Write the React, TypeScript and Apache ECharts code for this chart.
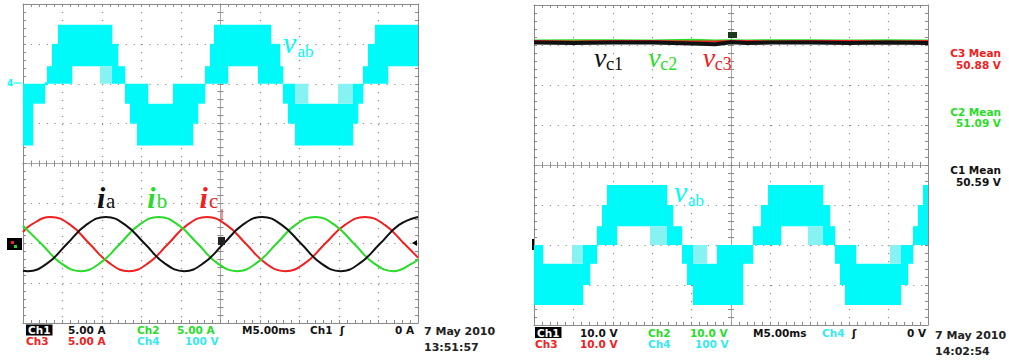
import React, { useEffect, useRef } from 'react';
import * as echarts from 'echarts';

// ---------- DATA (time in ms across the 10-division screen, 5 ms/div) ----------
// v_ab envelopes, left screen (Ch4, 100 V/div): [tStart, tEnd, vLow, vHigh, shade(1 solid / 0 light)]
const vabLeftSegments: number[][] = [
  [0.0, 1.27, -155, 0, 1],
  [1.27, 2.78, -50, 0, 1],
  [2.78, 3.04, -4, 4, 1],
  [3.04, 3.67, 0, 44, 1],
  [3.67, 4.43, 0, 100, 1],
  [4.43, 6.2, 0, 148, 1],
  [6.2, 9.75, 44, 148, 1],
  [9.75, 11.27, 44, 148, 1],
  [9.75, 11.27, 0, 44, 0],
  [11.27, 12.03, 0, 100, 1],
  [12.03, 12.91, 0, 44, 1],
  [12.91, 13.54, -50, 0, 1],
  [13.54, 14.43, -100, 0, 1],
  [14.43, 15.82, -155, 0, 1],
  [15.82, 18.99, -155, -50, 1],
  [18.99, 21.52, -155, 0, 1],
  [21.52, 22.15, -100, 0, 1],
  [22.15, 23.04, -50, 0, 1],
  [23.04, 23.67, 0, 44, 1],
  [23.67, 24.18, 0, 100, 1],
  [24.18, 25.95, 0, 148, 1],
  [25.95, 29.75, 44, 148, 1],
  [29.75, 31.39, 0, 148, 1],
  [31.39, 32.53, 0, 100, 1],
  [32.53, 32.91, 0, 44, 1],
  [32.91, 33.54, -50, 0, 1],
  [33.54, 34.43, -100, 0, 1],
  [34.43, 36.08, -155, -50, 1],
  [34.43, 36.08, -50, 0, 0],
  [36.08, 39.87, -155, -50, 1],
  [39.87, 41.77, -155, -50, 1],
  [39.87, 41.77, -50, 0, 0],
  [41.77, 42.41, -100, 0, 1],
  [42.41, 43.04, -50, 0, 1],
  [43.04, 43.67, 0, 44, 1],
  [43.67, 44.56, 0, 100, 1],
  [44.56, 46.2, 0, 148, 1],
  [46.2, 50.0, 44, 148, 1],
];

// v_ab envelopes, right screen (Ch4, 100 V/div)
const vabRightSegments: number[][] = [
  [0.0, 1.14, -150, 0, 1],
  [1.14, 4.82, -150, -47, 1],
  [4.82, 6.22, -150, -47, 1],
  [4.82, 6.22, -47, 0, 0],
  [6.22, 7.11, -100, 0, 1],
  [7.11, 7.99, -47, 0, 1],
  [7.99, 8.63, 0, 47, 1],
  [8.63, 9.26, 0, 100, 1],
  [9.26, 10.53, 0, 150, 1],
  [10.53, 14.72, 47, 150, 1],
  [14.72, 16.88, 47, 150, 1],
  [14.72, 16.88, 0, 47, 0],
  [16.88, 17.64, 0, 100, 1],
  [17.64, 18.78, 0, 47, 1],
  [18.78, 19.42, -47, 0, 1],
  [19.42, 20.18, -100, 0, 1],
  [20.18, 21.95, -150, -47, 1],
  [20.18, 21.95, -47, 0, 0],
  [21.95, 23.22, -150, -47, 1],
  [23.22, 26.52, -150, 0, 1],
  [26.52, 27.79, -47, 0, 1],
  [27.79, 28.81, 0, 47, 1],
  [28.81, 29.7, 0, 100, 1],
  [29.7, 31.35, 0, 150, 1],
  [31.35, 34.77, 47, 150, 1],
  [34.77, 36.68, 47, 150, 1],
  [34.77, 36.68, 0, 47, 0],
  [36.68, 37.56, 0, 100, 1],
  [37.56, 38.2, 0, 47, 1],
  [38.2, 38.83, -47, 0, 1],
  [38.83, 39.47, -100, 0, 1],
  [39.47, 40.86, -150, 0, 1],
  [40.86, 45.18, -150, -47, 1],
  [45.18, 46.57, -150, -47, 1],
  [45.18, 46.57, -47, 0, 0],
  [46.57, 47.46, -100, 0, 1],
  [47.46, 48.1, -47, 0, 1],
  [48.1, 48.73, 0, 47, 1],
  [48.73, 49.37, 0, 100, 1],
  [49.37, 50.0, 0, 150, 1],
];

// Phase currents (A), 5 A/div
const iaTimes = [0, 0.6, 3.1, 5.55, 8.0, 10.5, 12.95, 15.45, 17.9, 20.4, 22.85, 25.35, 27.8, 30.3, 32.75, 35.25, 37.7, 40.2, 42.65, 45.15, 47.6, 50];
const iaValues = [-3.45, -3.5, -2.5, -0.1, 2.3, 3.3, 2.3, -0.1, -2.5, -3.5, -2.5, -0.1, 2.3, 3.3, 2.3, -0.1, -2.5, -3.5, -2.5, -0.1, 2.3, 3.3];
const ibTimes = [0, 2.35, 4.8, 7.3, 9.75, 12.25, 14.7, 17.2, 19.65, 22.15, 24.6, 27.1, 29.55, 32.05, 34.5, 37.0, 39.45, 41.95, 44.4, 46.9, 49.35, 50];
const ibValues = [2.2, -0.1, -2.5, -3.5, -2.5, -0.1, 2.3, 3.3, 2.3, -0.1, -2.5, -3.5, -2.5, -0.1, 2.3, 3.3, 2.3, -0.1, -2.5, -3.5, -2.5, -2.0];
const icTimes = [0, 1.0, 3.5, 6.0, 8.45, 10.95, 13.4, 15.85, 18.35, 20.8, 23.3, 25.75, 28.25, 30.7, 33.2, 35.7, 38.2, 40.75, 43.3, 45.8, 48.3, 50];
const icValues = [1.4, 2.3, 3.3, 2.3, -0.1, -2.5, -3.5, -2.5, -0.1, 2.3, 3.3, 2.3, -0.1, -2.5, -3.5, -2.5, -0.1, 2.3, 3.3, 2.3, -0.1, -1.8];

// Capacitor voltages (V), 10 V/div
const capTimes = [0, 5, 10, 15, 20, 23, 25, 27, 30, 35, 40, 45, 50];
const vc1Values = [50.6, 50.5, 50.6, 50.6, 50.4, 50.2, 50.7, 50.5, 50.6, 50.6, 50.5, 50.6, 50.5];
const vc2Values = [51.1, 51.2, 51.2, 51.1, 51.3, 51.1, 51.2, 51.1, 51.2, 51.2, 51.1, 51.2, 51.1];
const vc3Values = [51.0, 50.9, 51.0, 51.0, 50.9, 50.9, 51.0, 51.0, 50.9, 51.0, 51.0, 50.9, 51.0];

const measLabels = ['C3 Mean', 'C2 Mean', 'C1 Mean'];
const measValues = ['50.88 V', '51.09 V', '50.59 V'];

// ---------- STYLE ----------
const CYAN = '#00fafa';
const CYAN_LIGHT = '#86f2f2';
const CYAN_TEXT = '#38e8f0';
const GREEN = '#28dc28';
const RED = '#f02020';
const BLACK = '#111111';
const FRAME = '#8a8a8a';
const DOT = '#8e8e8e';
const CENTER = '#a8a8a8';

const zip = (t: number[], v: number[]) => t.map((x, i) => [x, v[i]]);

function edgeX(gridIndex: number, position: string, split: boolean) {
  return {
    type: 'value', gridIndex, position, min: 0, max: 50, interval: 5,
    axisLine: { show: true, onZero: false, lineStyle: { color: FRAME, width: 1 } },
    axisTick: { show: true, inside: true, length: 3, lineStyle: { color: FRAME } },
    minorTick: { show: true, splitNumber: 5, length: 3, lineStyle: { color: FRAME } },
    axisLabel: { show: false },
    splitLine: { show: split, lineStyle: { color: DOT, width: 1.2, type: [1.2, 6.8] } },
  };
}
function centerX(gridIndex: number, position: string, yIdx: number) {
  return {
    type: 'value', gridIndex, position, min: 0, max: 50, interval: 5,
    axisLine: { show: true, onZero: true, onZeroAxisIndex: yIdx, lineStyle: { color: CENTER, width: 1 } },
    axisTick: { show: true, inside: true, length: 3, lineStyle: { color: FRAME } },
    minorTick: { show: true, splitNumber: 5, length: 3, lineStyle: { color: FRAME } },
    axisLabel: { show: false },
    splitLine: { show: false },
  };
}
function hiddenX(gridIndex: number) {
  return { type: 'value', gridIndex, min: -25, max: 25, show: false };
}
function edgeY(gridIndex: number, position: string, split: boolean) {
  return {
    type: 'value', gridIndex, position, min: -4, max: 4, interval: 1,
    axisLine: { show: true, onZero: false, lineStyle: { color: FRAME, width: 1 } },
    axisTick: { show: true, inside: true, length: 3, lineStyle: { color: FRAME } },
    minorTick: { show: true, splitNumber: 5, length: 3, lineStyle: { color: FRAME } },
    axisLabel: { show: false },
    splitLine: { show: split, lineStyle: { color: DOT, width: 1.2, type: [1.2, 6.7] } },
  };
}
function centerY(gridIndex: number, position: string, xIdx: number) {
  return {
    type: 'value', gridIndex, position, min: -4, max: 4, interval: 1,
    axisLine: { show: true, onZero: true, onZeroAxisIndex: xIdx, lineStyle: { color: CENTER, width: 1 } },
    axisTick: { show: true, inside: true, length: 3, lineStyle: { color: FRAME } },
    minorTick: { show: true, splitNumber: 5, length: 3, lineStyle: { color: FRAME } },
    axisLabel: { show: false },
    splitLine: { show: false },
  };
}
function channelY(gridIndex: number, min: number, max: number) {
  return { type: 'value', gridIndex, min, max, show: false };
}

function bandRender(params: any, api: any) {
  const p0 = api.coord([api.value(0), api.value(3)]);
  const p1 = api.coord([api.value(1), api.value(2)]);
  const solid = api.value(4) === 1;
  return {
    type: 'rect',
    shape: { x: p0[0], y: p0[1], width: p1[0] - p0[0] + 0.3, height: Math.max(p1[1] - p0[1], 1) },
    style: { fill: solid ? CYAN : CYAN_LIGHT },
  };
}

const READ_FONT = 'bold 10.5px "DejaVu Sans"';
function t(text: string, x: number, y: number, fill: string, extra: any = {}) {
  return { type: 'text', x, y, z: 20, style: { text, fill, font: READ_FONT, lineHeight: 10, verticalAlign: 'middle', ...extra } };
}
function sym(main: string, sub: string, x: number, yMain: number, xSub: number, ySub: number, color: string, fMain: number, fSub: number, weight = 'normal') {
  return [
    { type: 'text', x, y: yMain, z: 20, style: { text: main, fill: color, font: `italic ${weight} ${fMain}px "Liberation Serif"`, verticalAlign: 'middle' } },
    { type: 'text', x: xSub, y: ySub, z: 20, style: { text: sub, fill: color, font: `${fSub}px "Liberation Serif"`, verticalAlign: 'middle' } },
  ];
}

function buildOption() {
  const graphic: any[] = [
    // waveform labels
    ...sym('v', 'ab', 283, 42.8, 297.5, 51.2, CYAN, 30, 17),
    ...sym('i', 'a', 97, 197.8, 106, 201.4, BLACK, 30, 21, 'bold'),
    ...sym('i', 'b', 147.3, 197.8, 156.7, 201.4, GREEN, 30, 21, 'bold'),
    ...sym('i', 'c', 199.5, 197.8, 209, 201.4, RED, 30, 21, 'bold'),
    ...sym('v', 'c1', 594, 57.5, 606, 63.9, BLACK, 28, 18),
    ...sym('v', 'c2', 648.3, 57.5, 660.3, 63.9, GREEN, 28, 18),
    ...sym('v', 'c3', 702.7, 57.5, 714.7, 63.9, RED, 28, 18),
    ...sym('v', 'ab', 674, 191.5, 688, 200.9, CYAN, 30, 17),

    // left readouts
    t('Ch1', 26, 330, '#ffffff', { backgroundColor: '#000', padding: [1, 2, 0, 2] }),
    t('5.00 A', 68, 330, BLACK),
    t('Ch2', 137, 330, GREEN),
    t('5.00 A', 177, 330, GREEN),
    t('M5.00ms', 242, 330, BLACK),
    t('Ch1', 310, 330, BLACK),
    t('ʃ', 340, 330, BLACK),
    t('0 A', 395, 330, BLACK),
    t('Ch3', 26, 341, RED),
    t('5.00 A', 68, 341, RED),
    t('Ch4', 137, 341, CYAN_TEXT),
    t('100 V', 185, 341, CYAN_TEXT),
    t('7 May 2010', 424, 331.5, '#222', { font: 'bold 11px "DejaVu Sans"', lineHeight: 11 }),
    t('13:51:57', 424, 347, '#222', { font: 'bold 11px "DejaVu Sans"', lineHeight: 11 }),

    // right readouts
    t('Ch1', 535, 332.5, '#ffffff', { backgroundColor: '#000', padding: [1, 2, 0, 2] }),
    t('10.0 V', 580, 332.5, BLACK),
    t('Ch2', 648, 332.5, GREEN),
    t('10.0 V', 690, 332.5, GREEN),
    t('M5.00ms', 753, 332.5, BLACK),
    t('Ch4', 822, 332.5, CYAN_TEXT),
    t('ʃ', 852, 332.5, BLACK),
    t('0 V', 907, 332.5, BLACK),
    t('Ch3', 535, 343.5, RED),
    t('10.0 V', 580, 343.5, RED),
    t('Ch4', 648, 343.5, CYAN_TEXT),
    t('100 V', 695, 343.5, CYAN_TEXT),
    t('7 May 2010', 935, 335, '#222', { font: 'bold 11px "DejaVu Sans"', lineHeight: 11 }),
    t('14:02:54', 935, 351.7, '#222', { font: 'bold 11px "DejaVu Sans"', lineHeight: 11 }),

    // measurements
    t(measLabels[0], 1001, 53.3, RED, { align: 'right' }),
    t(measValues[0], 1001, 64.6, RED, { align: 'right' }),
    t(measLabels[1], 1001, 111.7, GREEN, { align: 'right' }),
    t(measValues[1], 1001, 123.3, GREEN, { align: 'right' }),
    t(measLabels[2], 1001, 170, BLACK, { align: 'right' }),
    t(measValues[2], 1001, 181.7, BLACK, { align: 'right' }),

    // channel / trigger markers
    { type: 'text', x: 7, y: 83, z: 20, style: { text: '4', fill: CYAN, font: 'bold 9px "DejaVu Sans"', verticalAlign: 'middle' } },
    { type: 'line', z: 20, shape: { x1: 14, y1: 83, x2: 22, y2: 83 }, style: { stroke: CYAN, lineWidth: 1 } },
    { type: 'rect', z: 20, shape: { x: 7, y: 238, width: 15, height: 12 }, style: { fill: '#000' } },
    { type: 'rect', z: 20, shape: { x: 11, y: 241, width: 3, height: 3 }, style: { fill: RED } },
    { type: 'rect', z: 20, shape: { x: 14, y: 245, width: 3, height: 3 }, style: { fill: GREEN } },
    { type: 'rect', z: 20, shape: { x: 218, y: 237, width: 7, height: 8 }, style: { fill: '#222' } },
    { type: 'line', z: 20, shape: { x1: 222, y1: 209, x2: 222, y2: 220 }, style: { stroke: RED, lineWidth: 1 } },
    { type: 'polygon', z: 20, shape: { points: [[412, 243], [417, 240], [417, 246]] }, style: { fill: '#000' } },
    { type: 'rect', z: 20, shape: { x: 532, y: 239, width: 2, height: 11 }, style: { fill: '#000' } },
    { type: 'rect', z: 20, shape: { x: 728, y: 32, width: 9, height: 6 }, style: { fill: '#1a3a1a' } },
  ];

  return {
    animation: false,
    backgroundColor: '#ffffff',
    grid: [
      { left: 23, top: 4, width: 395, height: 319 },
      { left: 534, top: 5, width: 394, height: 320 },
    ],
    xAxis: [
      edgeX(0, 'bottom', true),
      edgeX(0, 'top', false),
      centerX(0, 'bottom', 0),
      centerX(0, 'top', 0),
      hiddenX(0),
      edgeX(1, 'bottom', true),
      edgeX(1, 'top', false),
      centerX(1, 'bottom', 6),
      centerX(1, 'top', 6),
      hiddenX(1),
    ],
    yAxis: [
      edgeY(0, 'left', true),
      edgeY(0, 'right', false),
      centerY(0, 'left', 4),
      centerY(0, 'right', 4),
      channelY(0, -600, 200),
      channelY(0, -10, 30),
      edgeY(1, 'left', true),
      edgeY(1, 'right', false),
      centerY(1, 'left', 9),
      centerY(1, 'right', 9),
      channelY(1, -20, 60),
      channelY(1, -200, 600),
    ],
    graphic,
    series: [
      {
        type: 'custom', name: 'vab-left', xAxisIndex: 0, yAxisIndex: 4, clip: true, z: 3,
        encode: { x: [0, 1], y: [2, 3] }, data: vabLeftSegments, renderItem: bandRender,
      },
      { type: 'line', name: 'ic', xAxisIndex: 0, yAxisIndex: 5, data: zip(icTimes, icValues), smooth: 0.45, symbol: 'none', z: 4, lineStyle: { color: RED, width: 2 } },
      { type: 'line', name: 'ib', xAxisIndex: 0, yAxisIndex: 5, data: zip(ibTimes, ibValues), smooth: 0.45, symbol: 'none', z: 4, lineStyle: { color: GREEN, width: 2 } },
      { type: 'line', name: 'ia', xAxisIndex: 0, yAxisIndex: 5, data: zip(iaTimes, iaValues), smooth: 0.45, symbol: 'none', z: 4, lineStyle: { color: BLACK, width: 2 } },
      {
        type: 'custom', name: 'vab-right', xAxisIndex: 5, yAxisIndex: 11, clip: true, z: 3,
        encode: { x: [0, 1], y: [2, 3] }, data: vabRightSegments, renderItem: bandRender,
      },
      { type: 'line', name: 'vc2', xAxisIndex: 5, yAxisIndex: 10, data: zip(capTimes, vc2Values), symbol: 'none', z: 4, lineStyle: { color: GREEN, width: 2 } },
      { type: 'line', name: 'vc3', xAxisIndex: 5, yAxisIndex: 10, data: zip(capTimes, vc3Values), symbol: 'none', z: 4, lineStyle: { color: RED, width: 2 } },
      { type: 'line', name: 'vc1', xAxisIndex: 5, yAxisIndex: 10, data: zip(capTimes, vc1Values), symbol: 'none', z: 5, lineStyle: { color: BLACK, width: 4 } },
    ],
  };
}

export default function App() {
  const ref = useRef<HTMLDivElement>(null);
  useEffect(() => {
    if (!ref.current) return;
    const chart = echarts.init(ref.current, null, { renderer: 'svg' });
    chart.setOption(buildOption() as any);
    return () => chart.dispose();
  }, []);
  return (
    <div
      ref={ref}
      style={{ position: 'absolute', left: 0, top: 0, width: 1009, height: 363, background: '#ffffff' }}
    />
  );
}
